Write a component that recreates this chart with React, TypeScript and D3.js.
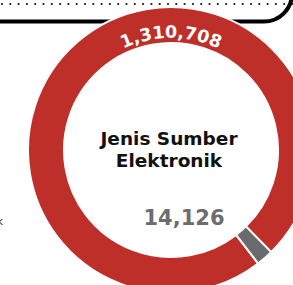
import { useEffect, useRef } from 'react';
import * as d3 from 'd3';

// slice data
const categories = ['Jenis Sumber Elektronik', 'Lainnya'];
const values = [1310708, 14126];
const valueLabels = ['1,310,708', '14,126'];
const titleLines = ['Jenis Sumber', 'Elektronik'];
const colors = ['#bf2f2a', '#6a6b6d'];

const WIDTH = 293;
const HEIGHT = 285;

export default function App() {
  const svgRef = useRef<SVGSVGElement>(null);

  useEffect(() => {
    if (!svgRef.current) return;
    const svg = d3.select(svgRef.current);
    svg.selectAll('*').remove();

    const cx = 171;
    const cy = 150;
    const outerR = 143;
    const innerR = 107;

    // decoration at the top: dotted rule + rounded black rule
    const dots = d3.range(2, WIDTH, 8.3);
    svg
      .append('g')
      .selectAll('circle')
      .data(dots)
      .enter()
      .append('circle')
      .attr('cx', (d) => d)
      .attr('cy', 4)
      .attr('r', 1.1)
      .style('fill', '#111');

    svg
      .append('path')
      .attr('d', 'M0,21.5 L264,21.5 A28,28 0 0 0 292,-6.5')
      .style('fill', 'none')
      .style('stroke', '#000')
      .style('stroke-width', 4);

    // cut-off label at the left edge (as in the source)
    svg
      .append('text')
      .attr('x', 3)
      .attr('y', 225)
      .style('text-anchor', 'end')
      .style('font-family', 'DejaVu Sans')
      .style('font-size', '11px')
      .style('fill', '#333')
      .text('k');

    const total = d3.sum(values);
    const minFrac = 7 / 360; // keep tiny slice visible
    const startA = (142.5 * Math.PI) / 180;

    const pie = d3
      .pie<number>()
      .sort(null)
      .value((d) => Math.max(d, total * minFrac))
      .startAngle(startA)
      .endAngle(startA + 2 * Math.PI);

    const arc = d3
      .arc<d3.PieArcDatum<number>>()
      .innerRadius(innerR)
      .outerRadius(outerR);

    const g = svg.append('g').attr('transform', `translate(${cx}, ${cy})`);

    g.selectAll('.slice')
      .data(pie(values))
      .enter()
      .append('path')
      .attr('class', 'slice')
      .attr('d', arc)
      .style('fill', (d, i) => colors[i])
      .style('stroke', '#fff')
      .style('stroke-width', 2);

    // curved label on the ring
    const labelR = 112;
    g.append('path')
      .attr('id', 'labelArc')
      .attr('d', `M${-labelR},0 A${labelR},${labelR} 0 0 1 ${labelR},0`)
      .style('fill', 'none');

    g.append('text')
      .style('font-family', 'DejaVu Sans')
      .style('font-weight', 'bold')
      .style('font-size', '17.5px')
      .style('fill', '#fff')
      .append('textPath')
      .attr('href', '#labelArc')
      .attr('startOffset', '50%')
      .style('text-anchor', 'middle')
      .text(valueLabels[0]);

    // centre title
    g.selectAll('.title')
      .data(titleLines)
      .enter()
      .append('text')
      .attr('class', 'title')
      .attr('x', -2)
      .attr('y', (d, i) => -5 + i * 22)
      .style('text-anchor', 'middle')
      .style('font-family', 'DejaVu Sans')
      .style('font-weight', 'bold')
      .style('font-size', '18.5px')
      .style('fill', '#111')
      .text((d) => d);

    g.append('text')
      .attr('x', 13)
      .attr('y', 75)
      .style('text-anchor', 'middle')
      .style('font-family', 'DejaVu Sans')
      .style('font-weight', 'bold')
      .style('font-size', '21px')
      .style('fill', '#6d6d6d')
      .text(valueLabels[1]);
  }, []);

  return (
    <svg
      ref={svgRef}
      width={WIDTH}
      height={HEIGHT}
      style={{ position: 'absolute', left: 0, top: 0, background: '#fff' }}
    >
      <title>{categories.join(' / ')}</title>
    </svg>
  );
}
